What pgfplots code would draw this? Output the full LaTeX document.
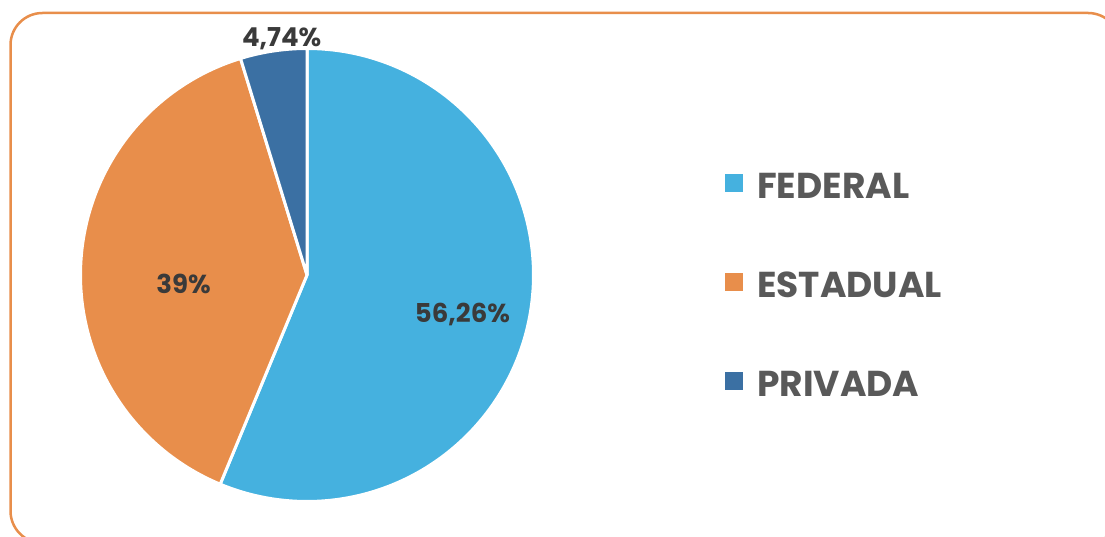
\documentclass[border=0pt]{standalone}
\usepackage{pgfplots}
\pgfplotsset{compat=1.18}
\usepgfplotslibrary{polar}
\usepackage{fontspec}
\setmainfont{Poppins}
\newfontfamily\legfont{Poppins}
\definecolor{fed}{HTML}{45B1DF}
\definecolor{est}{HTML}{E88E4B}
\definecolor{pri}{HTML}{3B70A3}
\definecolor{framec}{HTML}{E88E4B}
\definecolor{lbl}{HTML}{3A3A3A}
\definecolor{leg}{HTML}{595959}
% data (percent)
\def\vFed{56.26}
\def\vEst{39}
\def\vPri{4.74}
\pgfmathsetmacro{\aA}{90-3.6*\vFed}
\pgfmathsetmacro{\aB}{\aA-3.6*\vEst}
\pgfmathsetmacro{\aC}{\aB-3.6*\vPri}
\begin{document}
\begin{tikzpicture}[x=1pt,y=1pt]
\useasboundingbox (0,0) rectangle (1105,537);
\begin{scope}
\clip (0,0) rectangle (1105,537);
\draw[framec, line width=2.5pt, rounded corners=32pt] (10.5,524) rectangle (1120,-6);
\end{scope}
\begin{polaraxis}[
  at={(307pt,262pt)}, anchor=center,
  scale only axis, width=453pt, height=453pt,
  ymin=0, ymax=1,
  hide axis, clip=false,
  legend cell align=left,
  legend image code/.code={\fill[#1, draw=none] (0pt,-5pt) rectangle (18pt,13pt);},
  legend style={at={(1.4227,0.476)}, anchor=west, draw=none, fill=none, inner sep=0pt,
    font=\legfont\fontsize{36}{42}\selectfont\bfseries, text=leg, row sep=72pt,
    nodes={inner sep=0pt},
    /tikz/every odd column/.append style={column sep=14pt}},
]
\addplot[fill=fed, draw=white, line width=3pt, line join=round, domain=\aA:90, samples=150] {1} -- (axis cs:0,0) -- cycle;
\addlegendentry{FEDERAL}
\addplot[fill=est, draw=white, line width=3pt, line join=round, domain=\aB:\aA, samples=120] {1} -- (axis cs:0,0) -- cycle;
\addlegendentry{ESTADUAL}
\addplot[fill=pri, draw=white, line width=3pt, line join=round, domain=\aC:\aB, samples=30] {1} -- (axis cs:0,0) -- cycle;
\addlegendentry{PRIVADA}
\node[text=lbl, font=\fontsize{26}{30}\selectfont\bfseries] at (axis cs:-14.2,0.708) {56,26\%};
\node[text=lbl, font=\fontsize{26}{30}\selectfont\bfseries] at (axis cs:184.2,0.546) {39\%};
\node[text=lbl, font=\fontsize{26}{30}\selectfont\bfseries] at (axis cs:96.1,1.05) {4,74\%};
\end{polaraxis}
\end{tikzpicture}
\end{document}
